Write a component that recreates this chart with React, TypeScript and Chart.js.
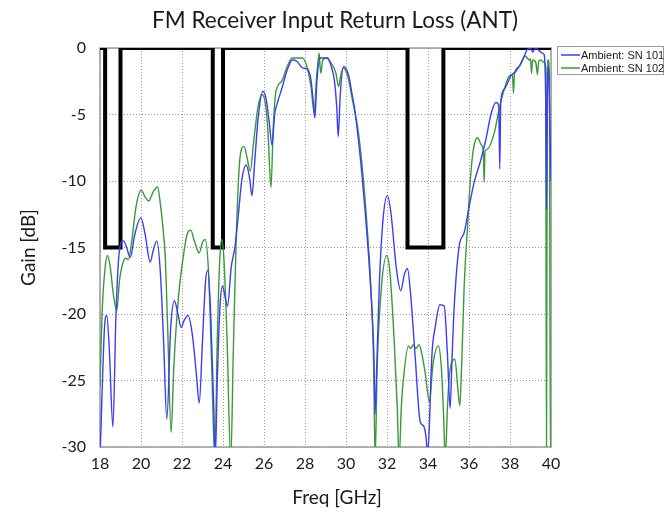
import React, { useEffect, useRef } from "react";
import { Chart, registerables } from "chart.js";

Chart.register(...registerables);

const chartTitle = "FM Receiver Input Return Loss (ANT)";
const xTitle = "Freq [GHz]";
const yTitle = "Gain [dB]";
const seriesNames = ["Ambient: SN 101", "Ambient: SN 102"];

const xTicks = [18, 20, 22, 24, 26, 28, 30, 32, 34, 36, 38, 40];
const yTicks = [0, -5, -10, -15, -20, -25, -30];

const maskFreq = [18, 18.25, 18.25, 19, 19, 23.5, 23.5, 24, 24, 33, 33, 34.75, 34.75, 40];
const maskGain = [0, 0, -15, -15, 0, 0, -15, -15, 0, 0, -15, -15, 0, 0];

const sn101Freq = [
  18.0, 18.1, 18.22, 18.33, 18.45, 18.63, 18.78, 18.95, 19.15, 19.3, 19.47, 19.7, 19.99, 20.2, 20.45, 20.6,
  20.77, 20.95, 21.1, 21.26, 21.45, 21.63, 21.8, 21.96, 22.1, 22.29, 22.5, 22.7, 22.84, 23.0, 23.15, 23.26,
  23.4, 23.55, 23.62, 23.72, 23.85, 23.98, 24.1, 24.22, 24.4, 24.59, 24.75, 24.92, 25.13, 25.3, 25.41, 25.55,
  25.7, 25.94, 26.1, 26.25, 26.39, 26.52, 26.66, 26.9, 27.1, 27.39, 27.6, 27.88, 28.13, 28.29, 28.4, 28.48,
  28.58, 28.73, 29.1, 29.3, 29.43, 29.55, 29.62, 29.72, 29.88, 30.12, 30.3, 30.45, 30.77, 31.1, 31.29, 31.36,
  31.42, 31.5, 31.62, 31.8, 32.02, 32.2, 32.45, 32.67, 32.85, 33.0, 33.15, 33.37, 33.62, 33.78, 33.9, 33.98,
  34.05, 34.19, 34.35, 34.58, 34.79, 34.95, 35.08, 35.18, 35.28, 35.52, 35.76, 36.01, 36.25, 36.58, 36.82, 37.07,
  37.31, 37.45, 37.5, 37.55, 37.72, 38.04, 38.29, 38.61, 38.85, 39.0, 39.1, 39.25, 39.42, 39.6, 39.67, 39.75,
  39.78, 39.82, 39.88, 39.95, 40.0,
];
const sn101Gain = [
  -31, -26, -21, -20.1, -22.5, -28.5, -20, -15.2, -14.5, -15.0, -15.75, -14.0, -12.75, -14.0, -16.1, -15.2,
  -14.5, -17, -22, -27.9, -21, -19.0, -20.0, -21.0, -20.5, -20.1, -21.5, -24.5, -26.7, -22, -17.5, -16.7,
  -20, -27, -31, -25, -19.5, -17.9, -18.7, -19.4, -16.5, -14.9, -12.5, -9.9, -8.8, -9.8, -11.1, -8.5,
  -5.5, -3.25, -3.8, -5.5, -7.3, -5.0, -4.1, -2.9, -1.8, -0.9, -1.0, -1.5, -1.6, -2.4, -4.0, -5.25,
  -2.5, -0.75, -0.75, -1.5, -2.4, -4.5, -6.65, -3.5, -1.4, -2.0, -3.5, -4.9, -9.4, -15.6, -20.4, -23,
  -27.5, -24, -18, -13, -11.1, -12.5, -16.5, -18.25, -17, -16.6, -18.5, -23.1, -28.1, -28.4, -29.2, -30.5,
  -29, -23.1, -21, -19.3, -19.4, -23.1, -27.1, -23, -19.4, -14.9, -13.9, -11.9, -10.1, -8.4, -6.9, -5.0,
  -4.1, -4.3, -9.1, -4.0, -3.1, -2.1, -1.75, -0.9, -0.1, 0, -0.3, 0, -0.2, -0.4, -0.5, -5,
  -12.1, -4, -1.4, -6, -10,
];

const sn102Freq = [
  18.0, 18.1, 18.25, 18.37, 18.5, 18.65, 18.82, 18.95, 19.15, 19.25, 19.39, 19.55, 19.75, 20.01, 20.2, 20.37,
  20.6, 20.81, 20.95, 21.1, 21.18, 21.3, 21.47, 21.6, 21.83, 22.07, 22.25, 22.43, 22.6, 22.84, 23.0, 23.13,
  23.3, 23.45, 23.6, 23.72, 23.84, 23.94, 24.05, 24.2, 24.38, 24.5, 24.65, 24.84, 25.03, 25.18, 25.33, 25.5,
  25.7, 25.9, 26.1, 26.2, 26.34, 26.45, 26.56, 26.66, 26.9, 27.1, 27.39, 27.88, 28.13, 28.3, 28.45, 28.55,
  28.65, 28.69, 28.74, 28.78, 28.85, 29.02, 29.3, 29.51, 29.64, 29.75, 29.87, 30.1, 30.3, 30.61, 30.93, 31.26,
  31.35, 31.42, 31.52, 31.7, 31.99, 32.15, 32.35, 32.5, 32.59, 32.7, 32.8, 33.05, 33.15, 33.29, 33.4, 33.57,
  33.7, 33.86, 34.07, 34.2, 34.27, 34.5, 34.65, 34.77, 34.84, 34.95, 35.05, 35.31, 35.45, 35.55, 35.65, 35.76,
  35.93, 36.09, 36.25, 36.42, 36.6, 36.7, 36.74, 36.78, 36.9, 37.23, 37.47, 37.63, 37.96, 38.12, 38.17, 38.22,
  38.45, 38.74, 38.95, 39.0, 39.05, 39.1, 39.26, 39.34, 39.4, 39.5, 39.67, 39.74, 39.78, 39.82, 39.86, 39.92,
  39.97, 40.0,
];
const sn102Gain = [
  -25.4, -20, -16.5, -15.6, -16.5, -18.5, -19.75, -17.5, -16.0, -15.8, -15.9, -14.5, -12.0, -10.7, -11.2, -11.5,
  -10.8, -10.45, -11.8, -14, -15.6, -21, -28.9, -24, -18.7, -15.6, -14.0, -13.7, -14.5, -15.4, -14.6, -14.4,
  -17, -24, -31, -22, -16, -14.4, -16, -22, -31, -23, -14, -8.1, -7.4, -8.3, -9.25, -7,
  -4.5, -3.5, -4.5, -6.5, -10.5, -6, -3.5, -2.9, -2.4, -1.5, -0.75, -0.75, -1.6, -3.0, -4.9, -2.5,
  -0.8, -0.4, -1.5, -1.9, -1.0, -0.75, -1.2, -1.9, -2.9, -2.0, -1.5, -2.2, -3.8, -6.4, -11.4, -19.4,
  -24, -31, -24, -18.5, -15.6, -17, -22, -27, -31, -27, -24.9, -22.4, -22.6, -22.3, -22.6, -22.3,
  -23.0, -24.4, -26.6, -24.5, -23.5, -22.4, -24, -28, -31, -27, -24.5, -23.4, -25.5, -26.9, -23.5, -18.1,
  -13.4, -9.4, -7.3, -6.75, -7.3, -7.8, -10.1, -7.8, -7.6, -6.4, -4.6, -3.6, -2.1, -2.0, -3.4, -1.9,
  -1.4, -0.6, -0.9, -0.8, -1.9, -0.9, -1.1, -2.0, -1.0, -0.9, -1.1, -1.5, -31, -2, -0.9, -2,
  -31, -31,
];

const BLUE = "#3d3df2";
const GREEN = "#3a9a3a";
const FONT = 'Lato, "Open Sans", "Liberation Sans", sans-serif';
const TEXT = "#1a1a1a";

function toPoints(xs: number[], ys: number[]) {
  return xs.map((x, i) => ({ x, y: ys[i] }));
}

const decorPlugin = {
  id: "decor",
  beforeDatasetsDraw(chart: any) {
    const { ctx, chartArea } = chart;
    ctx.save();
    ctx.strokeStyle = "#9a9a9a";
    ctx.lineWidth = 1.5;
    ctx.strokeRect(chartArea.left, chartArea.top, chartArea.right - chartArea.left, chartArea.bottom - chartArea.top);
    ctx.restore();
  },
  afterDraw(chart: any) {
    const { ctx, chartArea } = chart;
    ctx.save();
    ctx.fillStyle = TEXT;
    ctx.textAlign = "center";
    ctx.textBaseline = "alphabetic";
    ctx.font = `22.5px ${FONT}`;
    ctx.fillText(chartTitle, 335, 28);
    ctx.font = `19px ${FONT}`;
    ctx.fillText(xTitle, 337, 504);
    ctx.save();
    ctx.translate(35, (chartArea.top + chartArea.bottom) / 2);
    ctx.rotate(-Math.PI / 2);
    ctx.fillText(yTitle, 0, 0);
    ctx.restore();

    // legend
    const lx = 557, ly = 46, lw = 106, lh = 28;
    ctx.fillStyle = "#ffffff";
    ctx.fillRect(lx, ly, lw, lh);
    ctx.strokeStyle = "#9a9a9a";
    ctx.lineWidth = 1;
    ctx.strokeRect(lx + 0.5, ly + 0.5, lw, lh);
    const colors = [BLUE, GREEN];
    ctx.font = `11px "Liberation Sans", Arial, sans-serif`;
    ctx.textAlign = "left";
    ctx.textBaseline = "middle";
    seriesNames.forEach((name, i) => {
      const y = ly + 9 + i * 13;
      ctx.strokeStyle = colors[i];
      ctx.lineWidth = 1.5;
      ctx.beginPath();
      ctx.moveTo(lx + 4, y);
      ctx.lineTo(lx + 23, y);
      ctx.stroke();
      ctx.fillStyle = TEXT;
      ctx.fillText(name, lx + 24, y + 0.5);
    });
    ctx.restore();
  },
};

export default function App() {
  const ref = useRef<HTMLCanvasElement | null>(null);
  useEffect(() => {
    document.body.style.margin = "0";
    const canvas = ref.current;
    if (!canvas) return;
    const chart = new Chart(canvas, {
      type: "line",
      data: {
        datasets: [
          {
            label: seriesNames[0],
            data: toPoints(sn101Freq, sn101Gain),
            borderColor: BLUE,
            borderWidth: 1.4,
            pointRadius: 0,
            cubicInterpolationMode: "monotone",
            fill: false,
            order: 1,
          },
          {
            label: seriesNames[1],
            data: toPoints(sn102Freq, sn102Gain),
            borderColor: GREEN,
            borderWidth: 1.4,
            pointRadius: 0,
            cubicInterpolationMode: "monotone",
            fill: false,
            order: 2,
          },
          {
            label: "Mask",
            data: toPoints(maskFreq, maskGain),
            borderColor: "#000000",
            borderWidth: 4,
            pointRadius: 0,
            tension: 0,
            fill: false,
            order: 3,
            borderJoinStyle: "miter",
          },
        ],
      },
      options: {
        animation: false,
        responsive: false,
        devicePixelRatio: 1,
        layout: { padding: { top: 48, right: 119, left: 0, bottom: 0 } },
        plugins: {
          legend: { display: false },
          title: { display: false },
          tooltip: { enabled: false },
        },
        scales: {
          x: {
            type: "linear",
            min: 18,
            max: 40,
            afterBuildTicks: (s: any) => {
              s.ticks = xTicks.map((v) => ({ value: v }));
            },
            afterFit: (s: any) => {
              s.height = 65;
            },
            ticks: { font: { family: FONT, size: 16 }, color: TEXT, padding: 7, maxRotation: 0, autoSkip: false },
            grid: { color: "rgba(0,0,0,0.4)", drawTicks: false, lineWidth: 1 },
            border: { display: false, dash: [1, 2] },
          },
          y: {
            type: "linear",
            min: -30,
            max: 0,
            afterBuildTicks: (s: any) => {
              s.ticks = yTicks.map((v) => ({ value: v }));
            },
            afterFit: (s: any) => {
              s.width = 100;
            },
            ticks: { font: { family: FONT, size: 16 }, color: TEXT, padding: 14, autoSkip: false },
            grid: { color: "rgba(0,0,0,0.4)", drawTicks: false, lineWidth: 1 },
            border: { display: false, dash: [1, 2] },
          },
        },
      },
      plugins: [decorPlugin],
    } as any);
    return () => chart.destroy();
  }, []);
  return (
    <div style={{ width: 670, height: 512, position: "relative", background: "#fff" }}>
      <canvas ref={ref} width={670} height={512} />
    </div>
  );
}
